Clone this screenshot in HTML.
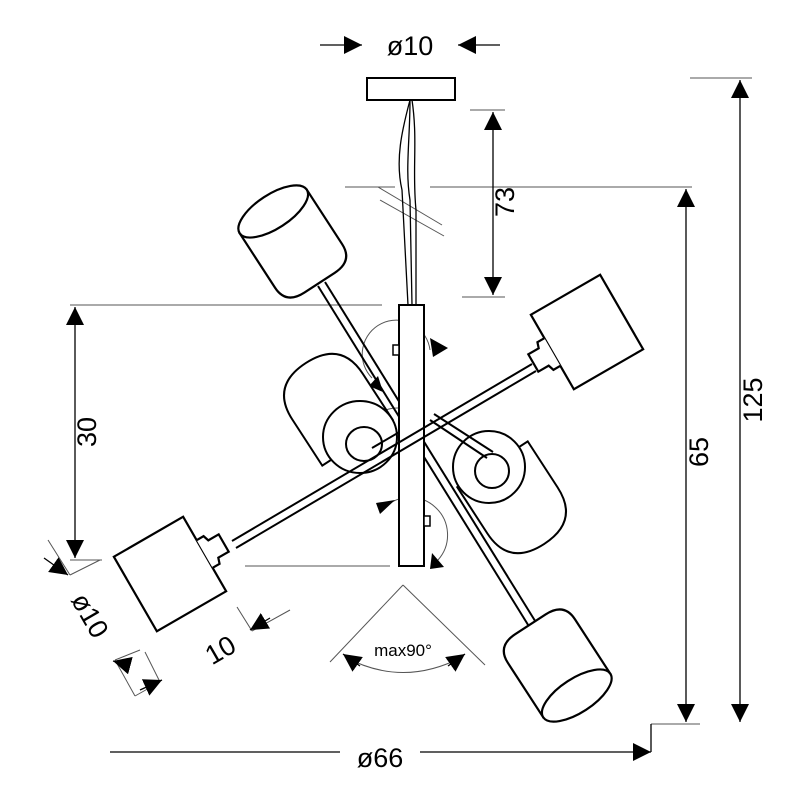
<!DOCTYPE html>
<html><head><meta charset="utf-8"><style>html,body{margin:0;padding:0;background:#fff}svg{display:block}</style></head><body>
<svg width="800" height="800" viewBox="0 0 800 800" xmlns="http://www.w3.org/2000/svg" font-family="Liberation Sans, Arial, sans-serif">
<defs>
<marker id="a" viewBox="0 0 10 10" refX="10" refY="5" markerWidth="18" markerHeight="18" markerUnits="userSpaceOnUse" orient="auto"><path d="M0,0 L10,5 L0,10 Z" fill="#000"/></marker>
</defs>
<rect width="800" height="800" fill="#fff"/>
<g stroke="#555" stroke-width="1" fill="none">
<line x1="690" y1="78" x2="752" y2="78"/>
<line x1="345" y1="187" x2="395" y2="187"/><line x1="430" y1="187" x2="692" y2="187"/>
<line x1="470" y1="110" x2="505" y2="110"/><line x1="462" y1="297" x2="505" y2="297"/>
<line x1="70" y1="305" x2="382" y2="305"/><line x1="70" y1="560" x2="102" y2="560"/><line x1="245" y1="566" x2="390" y2="566"/>
<line x1="651" y1="724" x2="700" y2="724"/>
<line x1="403" y1="585" x2="330" y2="662"/><line x1="403" y1="585" x2="485" y2="665"/>
<line x1="48" y1="540" x2="70" y2="575"/><line x1="70" y1="575" x2="100" y2="560"/>
<line x1="115" y1="660" x2="135" y2="696"/><line x1="135" y1="696" x2="160" y2="682"/>
<line x1="140" y1="650" x2="115" y2="660"/><line x1="160" y1="682" x2="145" y2="652"/>
<line x1="237" y1="607" x2="252" y2="631"/><line x1="252" y1="631" x2="290" y2="610"/>
<line x1="378" y1="187" x2="442" y2="225"/><line x1="380" y1="200" x2="444" y2="236"/>
<path d="M372,378 A34,34 0 1,1 430,350"/>
<path d="M372,460 A32,32 0 0,1 398,408"/>
<path d="M382,510 A36,36 0 1,1 438,560"/>
<path d="M345,657 Q403,688 462,657"/>
</g>
<g stroke="#000" stroke-width="1.3" fill="none">
<line x1="320" y1="45" x2="362" y2="45" marker-end="url(#a)"/>
<line x1="500" y1="45" x2="458" y2="45" marker-end="url(#a)"/>
<line x1="740" y1="400" x2="740" y2="80" marker-end="url(#a)"/>
<line x1="740" y1="400" x2="740" y2="722" marker-end="url(#a)"/>
<line x1="686" y1="450" x2="686" y2="189" marker-end="url(#a)"/>
<line x1="686" y1="450" x2="686" y2="722" marker-end="url(#a)"/>
<line x1="493" y1="200" x2="493" y2="112" marker-end="url(#a)"/>
<line x1="493" y1="200" x2="493" y2="295" marker-end="url(#a)"/>
<line x1="75" y1="430" x2="75" y2="307" marker-end="url(#a)"/>
<line x1="75" y1="430" x2="75" y2="558" marker-end="url(#a)"/>
<line x1="110" y1="752" x2="340" y2="752"/>
<line x1="420" y1="752" x2="651" y2="752" marker-end="url(#a)"/>
<line x1="651" y1="752" x2="651" y2="724"/>
<line x1="44" y1="558" x2="68" y2="575" marker-end="url(#a)"/>
<line x1="128" y1="665" x2="113" y2="661" marker-end="url(#a)"/>
<line x1="140" y1="690" x2="162" y2="680" marker-end="url(#a)"/>
<line x1="270" y1="618" x2="250" y2="630" marker-end="url(#a)"/>
<line x1="360" y1="666" x2="343" y2="654" marker-end="url(#a)"/>
<line x1="448" y1="666" x2="465" y2="654" marker-end="url(#a)"/>
</g>
<g fill="#000">
<path d="M430,338 L448,348 L433,357 Z"/>
<path d="M378,376 L383,392 L369,386 Z"/>
<path d="M398,400 L416,407 L399,414 Z"/>
<path d="M399,468 L418,476 L399,484 Z"/>
<path d="M395,500 L380,514 L376,503 Z"/>
<path d="M432,553 L444,567 L430,569 Z"/>
</g>
<rect x="367" y="78" width="88" height="22" fill="#fff" stroke="#000" stroke-width="2"/>
<g stroke="#000" stroke-width="1.3" fill="none">
<path d="M410,100 C402,130 395,160 402,190 L408,305"/>
<path d="M410,100 C410,140 405,170 410,200 L412,305"/>
<path d="M412,100 C418,140 412,170 416,210 L416,305"/>
</g>
<g stroke="#000" stroke-width="2" fill="none">
<line x1="318" y1="286" x2="530" y2="628"/>
<line x1="325" y1="282" x2="537" y2="624"/>
</g>
<!-- middle lamps -->
<g stroke="#000" stroke-width="2" fill="#fff">
<g transform="translate(333,405) rotate(237)">
<path d="M-45,-42 L10,-42 Q50,-42 50,0 Q50,42 10,42 L-45,42 Z"/>
</g>
<ellipse cx="360" cy="437" rx="37" ry="36"/>
<ellipse cx="364" cy="444" rx="18" ry="17"/>
<g transform="translate(517,502) rotate(57)">
<path d="M-45,-42 L10,-42 Q50,-42 50,0 Q50,42 10,42 L-45,42 Z"/>
</g>
<ellipse cx="489" cy="467" rx="36" ry="36"/>
<ellipse cx="492" cy="471" rx="17" ry="17"/>
</g>
<g stroke="#000" stroke-width="2" fill="none">
<line x1="372" y1="448" x2="420" y2="420"/>
<line x1="430" y1="420" x2="487" y2="458"/><line x1="434" y1="414" x2="493" y2="452"/>
</g>
<rect x="399" y="305" width="25" height="261" fill="#fff" stroke="#000" stroke-width="2"/>
<rect x="393" y="345" width="6" height="10" fill="#fff" stroke="#000" stroke-width="1.5"/>
<rect x="424" y="516" width="6" height="10" fill="#fff" stroke="#000" stroke-width="1.5"/>
<g stroke="#000" stroke-width="2" fill="none">
<line x1="232" y1="541" x2="532" y2="364"/>
<line x1="236" y1="548" x2="536" y2="371"/>
</g>
<g stroke="#000" stroke-width="2.2" fill="#fff">
<g transform="translate(295,245) rotate(57)">
<path d="M-40,-40 L25,-40 Q45,-40 45,-18 L45,18 Q45,40 25,40 L-40,40 Z"/>
<ellipse cx="-40" cy="0" rx="17" ry="40"/>
</g>
<g transform="translate(555,662) rotate(237)">
<path d="M-40,-40 L25,-40 Q45,-40 45,-18 L45,18 Q45,40 25,40 L-40,40 Z"/>
<ellipse cx="-40" cy="0" rx="17" ry="40"/>
</g>
<g transform="translate(170,574) rotate(-30)">
<rect x="-40" y="-43" width="80" height="86"/>
<path d="M40,-16 L48,-16 L50,-10 L62,-10 L62,10 L50,10 L48,16 L40,16"/>
</g>
<g transform="translate(587,332) rotate(-30)">
<rect x="-40" y="-43" width="80" height="86"/>
<path d="M-40,-16 L-48,-16 L-50,-10 L-62,-10 L-62,10 L-50,10 L-48,16 L-40,16"/>
</g>
</g>
<g fill="#000" font-size="27">
<text x="410" y="55" text-anchor="middle">ø10</text>
<text x="380" y="767" text-anchor="middle">ø66</text>
<text transform="translate(762,400) rotate(-90)" text-anchor="middle">125</text>
<text transform="translate(708,452) rotate(-90)" text-anchor="middle">65</text>
<text transform="translate(514,202) rotate(-90)" text-anchor="middle">73</text>
<text transform="translate(96,432) rotate(-90)" text-anchor="middle">30</text>
<text transform="translate(82,620) rotate(60)" text-anchor="middle">ø10</text>
<text transform="translate(225,658) rotate(-30)" text-anchor="middle">10</text>
<text x="403" y="656" text-anchor="middle" font-size="17">max90°</text>
</g>
</svg>
</body></html>
